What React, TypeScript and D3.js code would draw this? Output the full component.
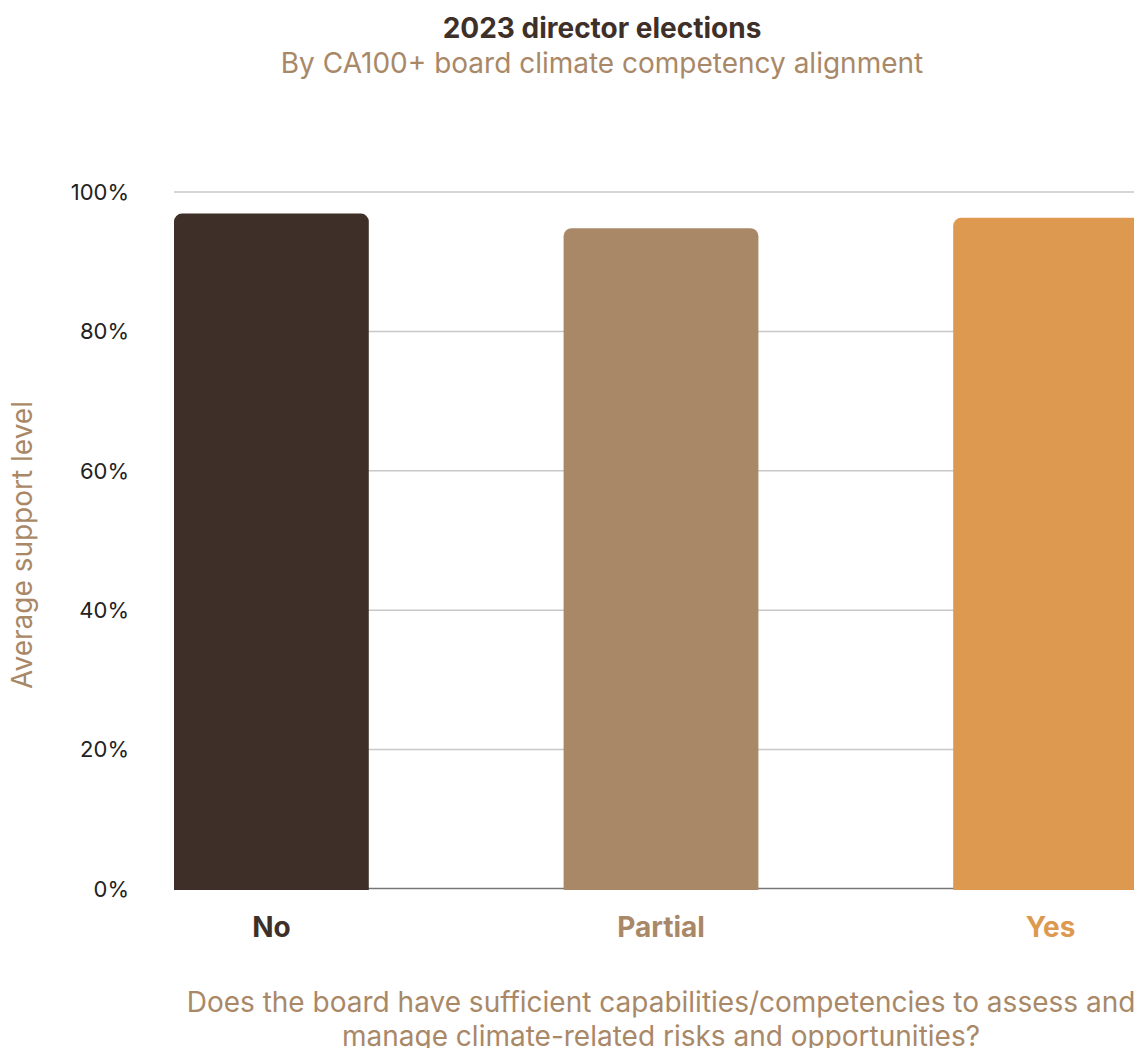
import React from "react";
import * as d3 from "d3";

const categories: string[] = ["No", "Partial", "Yes"];
const supportLevels: number[] = [0.969, 0.948, 0.963];
const barColors: string[] = ["#3e3029", "#a98868", "#dd994f"];
const yTicks: number[] = [0, 0.2, 0.4, 0.6, 0.8, 1.0];

const titleText = "2023 director elections";
const subtitleText = "By CA100+ board climate competency alignment";
const yAxisTitle = "Average support level";
const xAxisTitleLines: string[] = [
  "Does the board have sufficient capabilities/competencies to assess and",
  "manage climate-related risks and opportunities?",
];

const W = 1134;
const H = 1048;
const FONT = "Inter, 'Noto Sans', sans-serif";
const TAN = "#a98868";
const DARK = "#3e3029";

const plot = { left: 174, right: 1148, top: 192, bottom: 889 };

function topRoundedBar(x: number, y: number, w: number, h: number, r: number): string {
  const p = d3.path();
  p.moveTo(x, y + h);
  p.lineTo(x, y + r);
  p.arcTo(x, y, x + r, y, r);
  p.lineTo(x + w - r, y);
  p.arcTo(x + w, y, x + w, y + r, r);
  p.lineTo(x + w, y + h);
  p.closePath();
  return p.toString();
}

export default function App() {
  const x = d3
    .scaleBand<string>()
    .domain(categories)
    .range([plot.left, plot.right])
    .paddingInner(0.5)
    .paddingOuter(0);
  const y = d3.scaleLinear().domain([0, 1]).range([plot.bottom, plot.top]);
  const fmt = d3.format(".0%");
  const cx = (plot.left + plot.right) / 2;

  return (
    <svg
      width={W}
      height={H}
      style={{ position: "absolute", left: 0, top: 0, background: "#fff" }}
      fontFamily={FONT}
    >
      <text x={602} y={38} textAnchor="middle" fontSize={28} fontWeight={700} fill={DARK}>
        {titleText}
      </text>
      <text x={602} y={73} textAnchor="middle" fontSize={28} fill={TAN}>
        {subtitleText}
      </text>

      {/* gridlines */}
      {yTicks.slice(1).map((t) => (
        <line
          key={t}
          x1={plot.left}
          x2={plot.right}
          y1={y(t)}
          y2={y(t)}
          stroke="#c8c8c8"
          strokeWidth={1.5}
        />
      ))}
      {yTicks.map((t) => (
        <text
          key={"l" + t}
          x={129}
          y={y(t)}
          dy="0.35em"
          textAnchor="end"
          fontSize={22}
          fill="#222"
        >
          {fmt(t)}
        </text>
      ))}

      {/* baseline */}
      <line
        x1={plot.left}
        x2={plot.right}
        y1={plot.bottom - 0.5}
        y2={plot.bottom - 0.5}
        stroke="#777"
        strokeWidth={1.5}
      />

      {/* bars */}
      {categories.map((c, i) => {
        const bx = x(c)!;
        const by = y(supportLevels[i]);
        return (
          <path
            key={c}
            d={topRoundedBar(bx, by, x.bandwidth(), plot.bottom - by + 1, 8)}
            fill={barColors[i]}
          />
        );
      })}

      {/* category labels */}
      {categories.map((c, i) => (
        <text
          key={"c" + c}
          x={x(c)! + x.bandwidth() / 2}
          y={937}
          textAnchor="middle"
          fontSize={28}
          fontWeight={700}
          fill={barColors[i]}
        >
          {c}
        </text>
      ))}

      {/* axis titles */}
      <text
        transform={`translate(32, 545) rotate(-90)`}
        textAnchor="middle"
        fontSize={28}
        fill={TAN}
      >
        {yAxisTitle}
      </text>
      {xAxisTitleLines.map((line, i) => (
        <text key={"x" + i} x={cx} y={1012 + i * 34} textAnchor="middle" fontSize={28} fill={TAN}>
          {line}
        </text>
      ))}
    </svg>
  );
}
